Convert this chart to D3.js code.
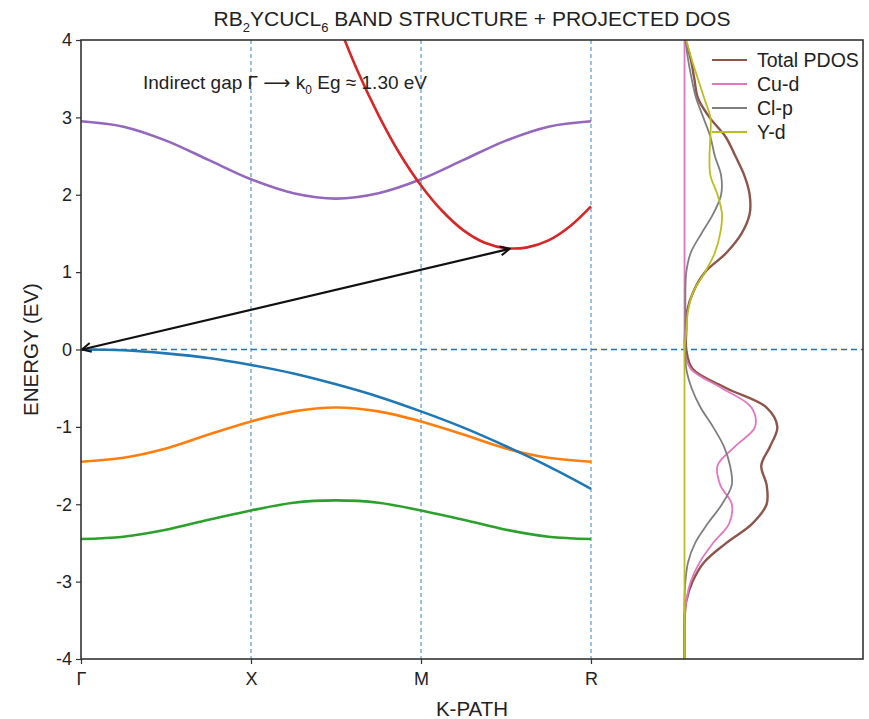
<!DOCTYPE html>
<html>
<head>
<meta charset="utf-8">
<script src="https://cdn.jsdelivr.net/npm/d3@7"></script>
<style>
  body { margin: 0; background: #fff; }
  text { font-family: "Liberation Sans", Arial, sans-serif; fill: #222; }
</style>
</head>
<body>
<svg id="chart" width="869" height="719"></svg>
<script>

//////// DATA ////////
var kLabels = ["Γ", "X", "M", "R"];
var kTicks = [0, 1, 2, 3];
var energyTicks = [-4, -3, -2, -1, 0, 1, 2, 3, 4];

// bands sampled along the k-path
var kGrid = [0, 0.25, 0.5, 0.75, 1, 1.25, 1.5, 1.75, 2, 2.25, 2.5, 2.75, 3];
var bandPurple = [2.95, 2.88, 2.70, 2.45, 2.20, 2.02, 1.95, 2.02, 2.20, 2.45, 2.70, 2.88, 2.95];
var bandBlue   = [0, -0.01, -0.05, -0.11, -0.20, -0.31, -0.45, -0.61, -0.80, -1.01, -1.25, -1.51, -1.80];
var bandOrange = [-1.45, -1.40, -1.28, -1.10, -0.93, -0.80, -0.75, -0.80, -0.93, -1.10, -1.28, -1.40, -1.45];
var bandGreen  = [-2.45, -2.42, -2.33, -2.20, -2.08, -1.98, -1.95, -1.98, -2.08, -2.20, -2.33, -2.42, -2.45];

// conduction band (only the part near k0)
var redK    = [1.5, 1.625, 1.75, 1.875, 2, 2.125, 2.25, 2.375, 2.5, 2.625, 2.75, 2.875, 3];
var bandRed = [4.28, 3.61, 3.03, 2.53, 2.12, 1.79, 1.54, 1.38, 1.31, 1.32, 1.41, 1.59, 1.85];

// gap arrow
var gapK = 2.52, gapE = 1.30;

// projected DOS, energies from 4 to -4 eV
var dosE = [4, 3.75, 3.5, 3.25, 3, 2.75, 2.5, 2.25, 2, 1.75, 1.5, 1.25, 1, 0.75, 0.5, 0.25, 0,
            -0.25, -0.5, -0.75, -1, -1.25, -1.5, -1.75, -2, -2.25, -2.5, -2.75, -3, -3.25, -3.5, -3.75, -4];
var dosTotal = [0.01, 0.07, 0.11, 0.15, 0.28, 0.46, 0.57, 0.67, 0.73, 0.73, 0.64, 0.47, 0.23, 0.10, 0.03, 0.02, 0.02,
                0.09, 0.47, 0.92, 1.04, 0.96, 0.86, 0.92, 0.92, 0.76, 0.47, 0.22, 0.09, 0.02, 0, 0, 0];
var dosCu    = [0, 0, 0, 0, 0, 0, 0, 0, 0, 0, 0, 0, 0, 0, 0, 0, 0,
                0.07, 0.42, 0.75, 0.79, 0.57, 0.37, 0.40, 0.53, 0.50, 0.32, 0.17, 0.07, 0.02, 0, 0, 0];
var dosCl    = [0.01, 0.04, 0.08, 0.13, 0.21, 0.29, 0.34, 0.41, 0.41, 0.32, 0.19, 0.07, 0.02, 0.01, 0.01, 0.01, 0.01,
                0.02, 0.08, 0.18, 0.32, 0.44, 0.51, 0.53, 0.42, 0.26, 0.12, 0.04, 0.01, 0, 0, 0, 0];
var dosY     = [0.02, 0.08, 0.15, 0.22, 0.29, 0.29, 0.28, 0.29, 0.37, 0.42, 0.40, 0.34, 0.23, 0.10, 0.04, 0.02, 0,
                0, 0, 0, 0, 0, 0, 0, 0, 0, 0, 0, 0, 0, 0, 0, 0];

var legendNames = ["Total PDOS", "Cu-d", "Cl-p", "Y-d"];

//////// CANVAS ////////
var svg = d3.select("#chart");
var margin = {top: 40, right: 6, bottom: 60, left: 81};
var W = 869, H = 719;
var width = W - margin.left - margin.right,
    height = H - margin.top - margin.bottom;

var g = svg.append("g").attr("transform", "translate(" + margin.left + "," + margin.top + ")");

//////// SCALES ////////
var xScale = d3.scaleLinear().domain([0, 4.6]).range([0, width]);
var yScale = d3.scaleLinear().domain([-4, 4]).range([height, 0]);
var dosScale = d3.scaleLinear().domain([0, 2]).range([xScale(3.55), width]);

g.append("clipPath").attr("id", "plotClip")
  .append("rect").attr("width", width).attr("height", height);

var plot = g.append("g").attr("clip-path", "url(#plotClip)");

// high-symmetry guides
plot.selectAll("line.kline")
  .data(kTicks.slice(1))
  .enter().append("line")
    .attr("class", "kline")
    .attr("x1", function(d) { return xScale(d); })
    .attr("x2", function(d) { return xScale(d); })
    .attr("y1", 0).attr("y2", height)
    .attr("stroke", "#5b9bd5")
    .attr("stroke-width", 1.2)
    .attr("stroke-dasharray", "4,3");

// Fermi level
plot.append("line")
  .attr("x1", 0).attr("x2", width)
  .attr("y1", yScale(0)).attr("y2", yScale(0))
  .attr("stroke", "#1f77b4")
  .attr("stroke-width", 1.5)
  .attr("stroke-dasharray", "6,4");

//////// BANDS ////////
var bandLine = d3.line()
  .x(function(d) { return xScale(d[0]); })
  .y(function(d) { return yScale(d[1]); })
  .curve(d3.curveCatmullRom);

var bands = [
  {k: kGrid, e: bandPurple, color: "#9467bd"},
  {k: kGrid, e: bandOrange, color: "#ff7f0e"},
  {k: kGrid, e: bandGreen, color: "#2ca02c"},
  {k: kGrid, e: bandBlue, color: "#1f77b4"},
  {k: redK, e: bandRed, color: "#d62728"}
];

plot.selectAll("path.band")
  .data(bands)
  .enter().append("path")
    .attr("class", "band")
    .attr("fill", "none")
    .attr("stroke", function(d) { return d.color; })
    .attr("stroke-width", 2.6)
    .attr("d", function(d) { return bandLine(d.k.map(function(k, i) { return [k, d.e[i]]; })); });

//////// PDOS ////////
var dosLine = d3.line()
  .x(function(d) { return dosScale(d[0]); })
  .y(function(d) { return yScale(d[1]); })
  .curve(d3.curveCatmullRom);

var dosSets = [
  {v: dosTotal, color: "#8c564b", w: 2.4},
  {v: dosCu, color: "#e377c2", w: 1.8},
  {v: dosCl, color: "#7f7f7f", w: 1.8},
  {v: dosY, color: "#bcbd22", w: 1.8}
];

plot.selectAll("path.dos")
  .data(dosSets)
  .enter().append("path")
    .attr("class", "dos")
    .attr("fill", "none")
    .attr("stroke", function(d) { return d.color; })
    .attr("stroke-width", function(d) { return d.w; })
    .attr("d", function(d) { return dosLine(d.v.map(function(v, i) { return [v, dosE[i]]; })); });

//////// GAP ARROW ////////
var defs = svg.append("defs");
defs.append("marker")
  .attr("id", "head")
  .attr("viewBox", "-10 -6 12 12")
  .attr("refX", 0).attr("refY", 0)
  .attr("markerWidth", 12).attr("markerHeight", 12)
  .attr("markerUnits", "userSpaceOnUse")
  .attr("orient", "auto-start-reverse")
  .append("path")
    .attr("d", "M-9,-4.5 L0,0 L-9,4.5")
    .attr("fill", "none")
    .attr("stroke", "#111")
    .attr("stroke-width", 2);

g.append("line")
  .attr("x1", xScale(0) + 1).attr("y1", yScale(0))
  .attr("x2", xScale(gapK)).attr("y2", yScale(gapE))
  .attr("stroke", "#111")
  .attr("stroke-width", 2.2)
  .attr("marker-start", "url(#head)")
  .attr("marker-end", "url(#head)");

//////// AXES ////////
var yAxis = g.append("g")
  .call(d3.axisLeft(yScale).tickValues(energyTicks).tickSize(5).tickPadding(4)
    .tickFormat(function(d) { return String(d); }));
var xAxis = g.append("g")
  .attr("transform", "translate(0," + height + ")")
  .call(d3.axisBottom(xScale).tickValues(kTicks).tickSize(5).tickPadding(8)
    .tickFormat(function(d, i) { return kLabels[i]; }));

[yAxis, xAxis].forEach(function(ax) {
  ax.select(".domain").remove();
  ax.selectAll(".tick line").attr("stroke", "#333").attr("stroke-width", 1.2);
  ax.selectAll(".tick text").attr("font-size", 18).attr("fill", "#222")
    .attr("font-family", "Liberation Sans, Arial, sans-serif");
});

// frame
g.append("rect")
  .attr("width", width).attr("height", height)
  .attr("fill", "none")
  .attr("stroke", "#333")
  .attr("stroke-width", 1.6);

//////// LABELS ////////
var title = svg.append("text")
  .attr("x", margin.left + width / 2)
  .attr("y", 26)
  .attr("text-anchor", "middle")
  .attr("font-size", 21);
title.append("tspan").text("RB");
title.append("tspan").attr("font-size", 13).attr("dy", 6).text("2");
title.append("tspan").attr("dy", -6).text("YCUCL");
title.append("tspan").attr("font-size", 13).attr("dy", 6).text("6");
title.append("tspan").attr("dy", -6).text(" BAND STRUCTURE + PROJECTED DOS");

svg.append("text")
  .attr("x", margin.left + width / 2)
  .attr("y", 716)
  .attr("text-anchor", "middle")
  .attr("font-size", 20.5)
  .text("K-PATH");

svg.append("text")
  .attr("transform", "translate(38," + (margin.top + yScale(0)) + ") rotate(-90)")
  .attr("text-anchor", "middle")
  .attr("font-size", 20.5)
  .text("ENERGY (EV)");

var note = g.append("text")
  .attr("x", 62)
  .attr("y", 49)
  .attr("font-size", 19);
note.append("tspan").text("Indirect gap Γ ");
note.append("tspan").attr("font-family", "DejaVu Sans").attr("font-size", 19).text("⟶");
note.append("tspan").text(" k");
note.append("tspan").attr("font-size", 12).attr("dy", 5).text("0");
note.append("tspan").attr("dy", -5).text(" Eg ≈ 1.30 eV");

//////// LEGEND ////////
var legend = g.append("g")
  .selectAll("g")
  .data(dosSets)
  .enter().append("g")
    .attr("transform", function(d, i) { return "translate(" + (712 - margin.left) + "," + (20 + i * 24) + ")"; });

legend.append("line")
  .attr("x1", 0).attr("x2", 35)
  .attr("stroke", function(d) { return d.color; })
  .attr("stroke-width", 2.2);

legend.append("text")
  .attr("x", 45)
  .attr("dy", "0.35em")
  .attr("font-size", 19.5)
  .text(function(d, i) { return legendNames[i]; });

</script>
</body>
</html>
